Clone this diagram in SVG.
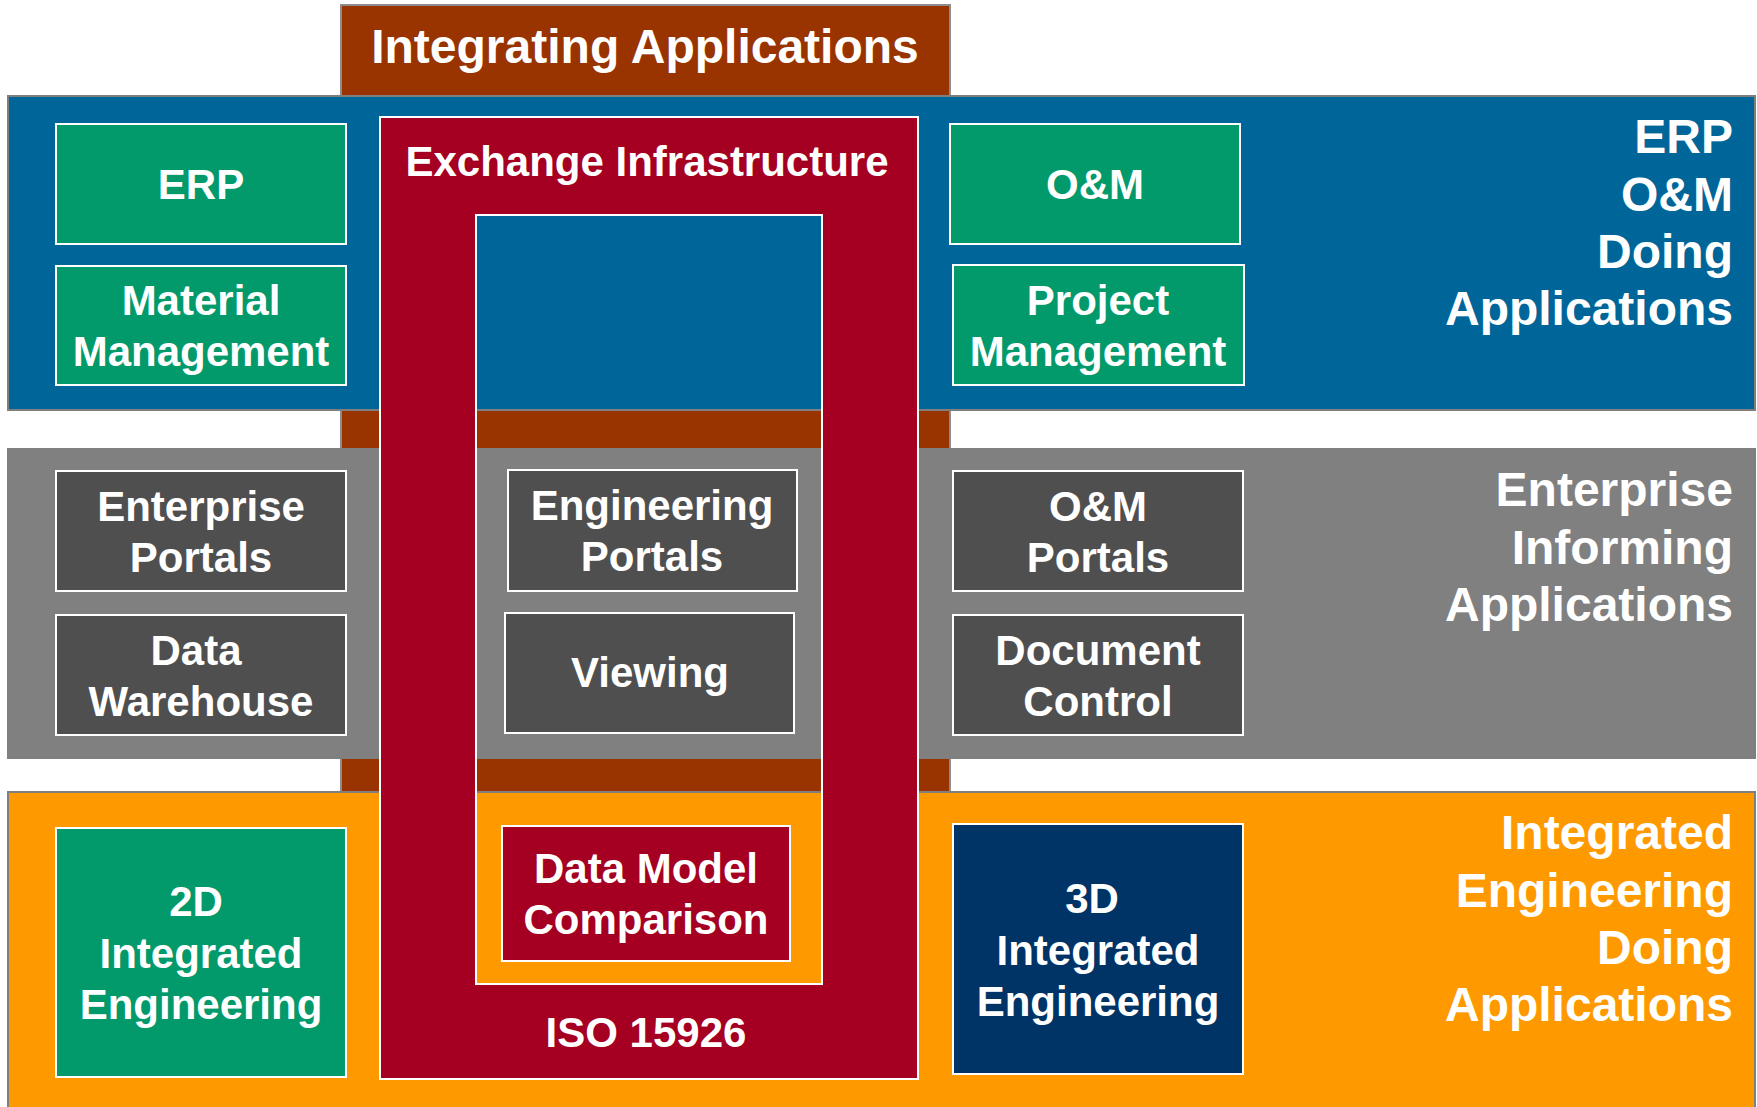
<svg xmlns="http://www.w3.org/2000/svg" width="1757" height="1107" viewBox="0 0 1757 1107">
<style>
text{font-family:"Liberation Sans",Arial,sans-serif;font-weight:bold;fill:#fff}
.t48{font-size:48px}
.t42{font-size:42px;text-anchor:middle}
.lab{font-size:48px;text-anchor:end}
.band{stroke:#7f7f7f;stroke-width:2}
.node{stroke:#fff;stroke-width:2}
.green{fill:#02996b}
.dark{fill:#4f4f4f}
</style>
<rect width="1757" height="1107" fill="#fff"/>
<g id="integrating-applications">
<rect x="341" y="5" width="609" height="800" fill="#993300" stroke="#8c8c8c" stroke-width="2"/>
<text class="t48" x="645" y="63" text-anchor="middle">Integrating Applications</text>
</g>
<g id="band-erp">
<rect class="band" x="8" y="96" width="1747" height="314" fill="#006699"/>
<text class="lab" x="1733" y="153">ERP</text>
<text class="lab" x="1733" y="211">O&amp;M</text>
<text class="lab" x="1733" y="268">Doing</text>
<text class="lab" x="1733" y="325">Applications</text>
</g>
<g id="band-informing">
<rect class="band" x="8" y="449" width="1747" height="309" fill="#808080"/>
<text class="lab" x="1733" y="506">Enterprise</text>
<text class="lab" x="1733" y="564">Informing</text>
<text class="lab" x="1733" y="621">Applications</text>
</g>
<g id="band-engineering">
<rect class="band" x="8" y="792" width="1747" height="330" fill="#ff9900"/>
<text class="lab" x="1733" y="849">Integrated</text>
<text class="lab" x="1733" y="907">Engineering</text>
<text class="lab" x="1733" y="964">Doing</text>
<text class="lab" x="1733" y="1021">Applications</text>
</g>
<g id="exchange-infrastructure">
<rect x="380" y="117" width="538" height="962" fill="#a50021" stroke="#fff" stroke-width="2"/>
<rect x="476" y="215" width="346" height="195" fill="#006699"/>
<rect x="476" y="410" width="346" height="39" fill="#993300"/>
<rect x="476" y="449" width="346" height="309" fill="#808080"/>
<rect x="476" y="758" width="346" height="34" fill="#993300"/>
<rect x="476" y="792" width="346" height="192" fill="#ff9900"/>
<line x1="476" y1="410" x2="822" y2="410" stroke="#7f7f7f" stroke-width="2"/>
<line x1="476" y1="449" x2="822" y2="449" stroke="#7f7f7f" stroke-width="2"/>
<line x1="476" y1="758" x2="822" y2="758" stroke="#7f7f7f" stroke-width="2"/>
<line x1="476" y1="792" x2="822" y2="792" stroke="#7f7f7f" stroke-width="2"/>
<rect x="476" y="215" width="346" height="769" fill="none" stroke="#fff" stroke-width="2"/>
<text class="t42" x="647" y="176">Exchange Infrastructure</text>
<text class="t42" x="646" y="1047">ISO 15926</text>
</g>
<g id="erp">
<rect class="node green" x="56" y="124" width="290" height="120"/>
<text class="t42" x="201" y="199">ERP</text>
</g>
<g id="material-management">
<rect class="node green" x="56" y="266" width="290" height="119"/>
<text class="t42" x="201" y="315">Material</text>
<text class="t42" x="201" y="366">Management</text>
</g>
<g id="om">
<rect class="node green" x="950" y="124" width="290" height="120"/>
<text class="t42" x="1095" y="199">O&amp;M</text>
</g>
<g id="project-management">
<rect class="node green" x="953" y="265" width="291" height="120"/>
<text class="t42" x="1098" y="315">Project</text>
<text class="t42" x="1098" y="366">Management</text>
</g>
<g id="enterprise-portals">
<rect class="node dark" x="56" y="471" width="290" height="120"/>
<text class="t42" x="201" y="521">Enterprise</text>
<text class="t42" x="201" y="572">Portals</text>
</g>
<g id="data-warehouse">
<rect class="node dark" x="56" y="615" width="290" height="120"/>
<text class="t42" x="196" y="665">Data</text>
<text class="t42" x="201" y="716">Warehouse</text>
</g>
<g id="engineering-portals">
<rect class="node dark" x="508" y="470" width="289" height="121"/>
<text class="t42" x="652" y="520">Engineering</text>
<text class="t42" x="652" y="571">Portals</text>
</g>
<g id="viewing">
<rect class="node dark" x="505" y="613" width="289" height="120"/>
<text class="t42" x="650" y="687">Viewing</text>
</g>
<g id="om-portals">
<rect class="node dark" x="953" y="471" width="290" height="120"/>
<text class="t42" x="1098" y="521">O&amp;M</text>
<text class="t42" x="1098" y="572">Portals</text>
</g>
<g id="document-control">
<rect class="node dark" x="953" y="615" width="290" height="120"/>
<text class="t42" x="1098" y="665">Document</text>
<text class="t42" x="1098" y="716">Control</text>
</g>
<g id="integrated-engineering-2d">
<rect class="node green" x="56" y="828" width="290" height="249"/>
<text class="t42" x="196" y="916">2D</text>
<text class="t42" x="201" y="968">Integrated</text>
<text class="t42" x="201" y="1019">Engineering</text>
</g>
<g id="data-model-comparison">
<rect class="node" x="502" y="826" width="288" height="135" fill="#a50021"/>
<text class="t42" x="646" y="883">Data Model</text>
<text class="t42" x="646" y="934">Comparison</text>
</g>
<g id="integrated-engineering-3d">
<rect class="node" x="953" y="824" width="290" height="250" fill="#003366"/>
<text class="t42" x="1092" y="913">3D</text>
<text class="t42" x="1098" y="965">Integrated</text>
<text class="t42" x="1098" y="1016">Engineering</text>
</g>
<g id="connectors"></g>
</svg>
